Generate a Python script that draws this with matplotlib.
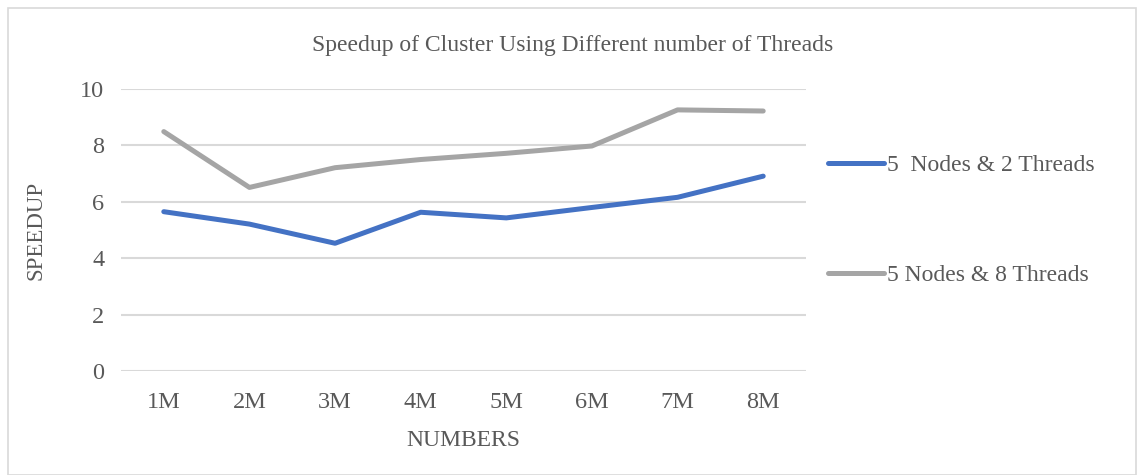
import matplotlib.pyplot as plt
from matplotlib.patches import Rectangle

plt.rcParams['font.family'] = ['Liberation Serif', 'DejaVu Serif']

categories = ["1M", "2M", "3M", "4M", "5M", "6M", "7M", "8M"]
threads_2 = [5.65, 5.21, 4.53, 5.63, 5.43, 5.80, 6.16, 6.91]
threads_8 = [8.49, 6.51, 7.21, 7.50, 7.72, 7.98, 9.26, 9.22]
labels = ["5  Nodes & 2 Threads", "5 Nodes & 8 Threads"]
y_ticks = [0, 2, 4, 6, 8, 10]

text_color = "#595959"

fig = plt.figure(figsize=(11.37, 4.75), dpi=100)
ax = fig.add_axes([0.1064, 0.2189, 0.6025, 0.5937])

x = range(len(categories))
ax.plot(x, threads_2, color="#4472C4", lw=3.6, solid_capstyle="round", label=labels[0])
ax.plot(x, threads_8, color="#A5A5A5", lw=3.6, solid_capstyle="round", label=labels[1])

ax.set_xlim(-0.5, len(categories) - 0.5)
ax.set_ylim(0, 10)
ax.set_xticks(list(x))
ax.set_xticklabels(categories)
ax.set_yticks(y_ticks)
ax.grid(axis="y", color="#D9D9D9", lw=1.5)
ax.set_axisbelow(True)
for s in ax.spines.values():
    s.set_visible(False)
ax.tick_params(length=0, labelsize=17.5, colors=text_color)
ax.tick_params(axis="x", pad=15)
ax.tick_params(axis="y", pad=12)

ax.set_xlabel("NUMBERS", fontsize=17, color=text_color, labelpad=12)
ax.set_ylabel("SPEEDUP", fontsize=16.5, color=text_color, labelpad=24)
fig.text(0.504, 0.905, "Speedup of Cluster Using Different number of Threads",
         ha="center", va="center", fontsize=17, color=text_color)

leg = ax.legend(loc="upper left", bbox_to_anchor=(1.019, 0.8), frameon=False,
                fontsize=17, labelspacing=3.75, handlelength=2.35, handletextpad=0.12,
                borderaxespad=0)
for t in leg.get_texts():
    t.set_color(text_color)

fig.patches.append(Rectangle((0.007, 0.0), 0.992, 0.983, transform=fig.transFigure,
                             fill=False, edgecolor="#D9D9D9", lw=1.2))

fig.savefig("out.png", dpi=100)
